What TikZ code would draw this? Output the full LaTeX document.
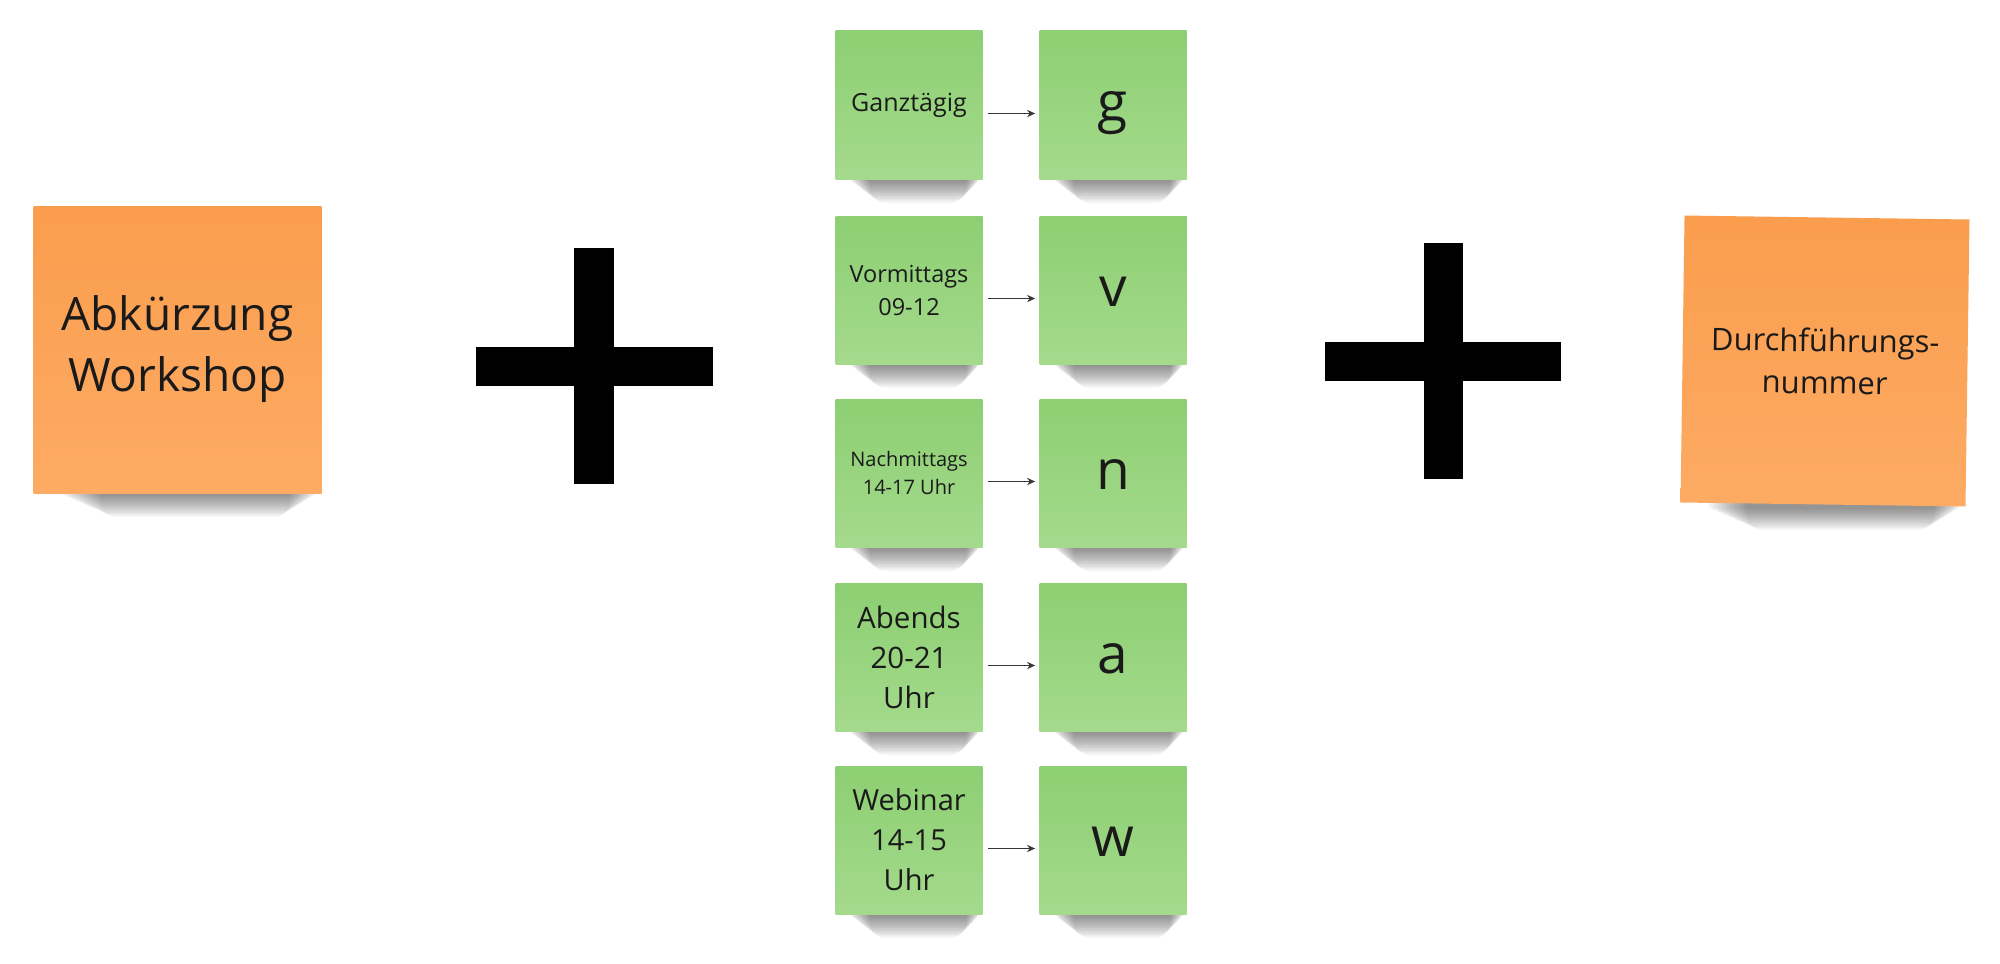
\documentclass[tikz,border=0pt]{standalone}
\usepackage{fontspec}
\setmainfont{Open Sans}
\usetikzlibrary{calc,arrows.meta}
\pgfdeclarelayer{paper}
\pgfdeclarelayer{background}
\pgfsetlayers{paper,background,main}
\definecolor{gtop}{RGB}{141,207,114}
\definecolor{gbot}{RGB}{164,218,140}
\definecolor{otop}{RGB}{250,157,77}
\definecolor{obot}{RGB}{253,171,100}
\definecolor{ink}{RGB}{26,26,26}
\definecolor{arrowgray}{RGB}{55,55,55}
\tikzset{
  gnote/.style={minimum width=73.5pt,minimum height=74pt,inner sep=0pt,
    top color=gtop,bottom color=gbot,text=ink,align=center},
  onote/.style={minimum width=144pt,minimum height=143.5pt,inner sep=0pt,
    top color=otop,bottom color=obot,text=ink,align=center},
  letter/.style={gnote,font=\fontsize{27.5}{30}\selectfont,text height=16pt,text depth=0pt},
  conn/.style={draw=arrowgray,line width=0.7pt,-{Stealth[length=4pt,width=3.6pt]}},
}
\newcommand\stickyshadow[1]{%
  \foreach \i in {1,...,16}{%
    \pgfmathsetmacro\fa{0.09+0.009*\i}%
    \pgfmathsetmacro\fb{0.985-0.006*\i}%
    \pgfmathsetmacro\dy{0.5+1.45*\i}%
    \pgfmathsetmacro\rc{1+0.45*\i}%
    \fill[black,opacity=0.032,rounded corners=\rc pt]
      ($(#1.south west)!\fa!(#1.south east)+(0,-20)$) rectangle
      ($(#1.south west)!\fb!(#1.south east)+(0,\dy)$);
  }%
}
\begin{document}
\begin{tikzpicture}[x=0.5pt,y=-0.5pt]
\useasboundingbox (0,0) rectangle (2000,963);
\begin{pgfonlayer}{paper}
  \fill[white] (0,0) rectangle (2000,963);
\end{pgfonlayer}

% orange notes
\node[onote,font=\fontsize{23}{30.5}\selectfont] (abk) at (177.5,349.5) {Abkürzung\\Workshop};
\node[onote,rotate=-0.8,minimum width=142.5pt,font=\fontsize{15.5}{21}\selectfont] (dur) at (1825,361) {Durchführungs-\\nummer};

% plus signs
\fill[black] (574,248) rectangle (614,484);
\fill[black] (476,347) rectangle (713,386);
\fill[black] (1424,243) rectangle (1463,479);
\fill[black] (1325,342) rectangle (1561,381);

% green notes, left column
\node[gnote,font=\fontsize{12.5}{17}\selectfont] (l1) at (909,105) {Ganztägig};
\node[gnote,font=\fontsize{11.75}{16.5}\selectfont] (l2) at (909,290) {Vormittags\\09-12};
\node[gnote,font=\fontsize{10}{14}\selectfont] (l3) at (909,473) {Nachmittags\\14-17 Uhr};
\node[gnote,font=\fontsize{14.75}{20}\selectfont] (l4) at (909,657) {Abends\\20-21\\Uhr};
\node[gnote,font=\fontsize{14.5}{20}\selectfont] (l5) at (909,840) {Webinar\\14-15\\Uhr};

% green notes, right column
\node[letter] (r1) at (1113,105) {g};
\node[letter] (r2) at (1113,290) {v};
\node[letter] (r3) at (1113,473) {n};
\node[letter] (r4) at (1113,657) {a};
\node[letter] (r5) at (1113,840) {w};

% arrows
\foreach \k in {1,...,5}{
  \draw[conn] ([shift={(5,8.5)}]l\k.east) -- ([shift={(-4,8.5)}]r\k.west);
}

% shadows
\begin{pgfonlayer}{background}
  \foreach \n in {abk,dur,l1,l2,l3,l4,l5,r1,r2,r3,r4,r5}{\stickyshadow{\n}}
\end{pgfonlayer}
\end{tikzpicture}
\end{document}
